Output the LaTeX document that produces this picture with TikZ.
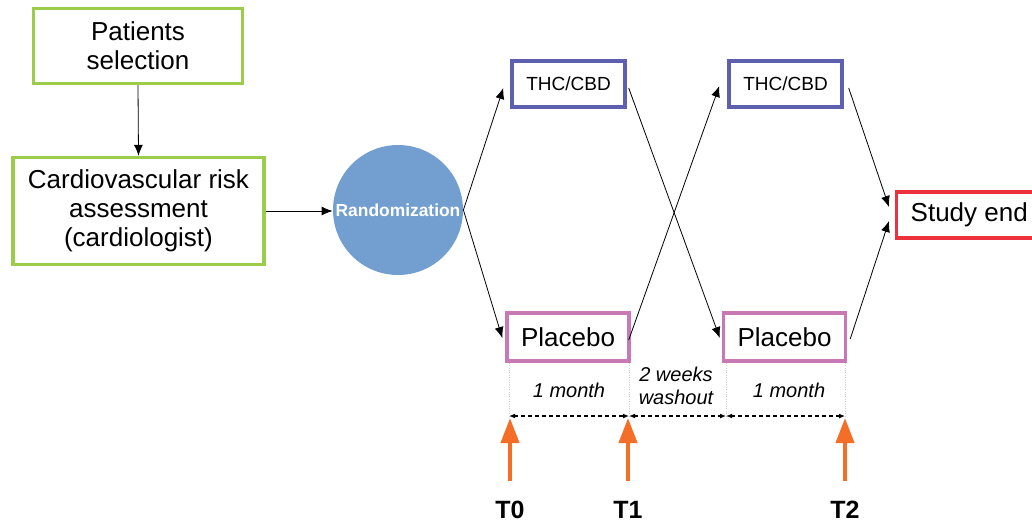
\documentclass[tikz,border=0pt]{standalone}
\usepackage{fontspec}
\setmainfont{Liberation Sans}
\usepackage{tikz}
\usetikzlibrary{arrows,arrows.meta,shapes,positioning}
\usepackage{xcolor}
\definecolor{stepgreen}{RGB}{155,205,75}
\definecolor{thcblue}{RGB}{95,95,175}
\definecolor{placpink}{RGB}{200,120,180}
\definecolor{endred}{RGB}{235,50,60}
\definecolor{randblue}{RGB}{114,159,207}
\definecolor{visitorange}{RGB}{245,110,40}
\tikzstyle{arrow} = [thin,-{Latex[length=5.5pt,width=4.5pt]},color=black]
\tikzstyle{bigtext} = [font=\fontsize{13}{14.5}\selectfont]
\tikzstyle{greenbox} = [bigtext,draw=stepgreen,line width=1.7pt,fill=white,align=center]
\tikzstyle{thcbox} = [draw=thcblue,line width=1.7pt,fill=white,font=\fontsize{9.5}{11}\selectfont,minimum width=56.5pt,minimum height=23pt]
\tikzstyle{placebox} = [bigtext,draw=placpink,line width=1.7pt,fill=white,minimum width=61pt,minimum height=24pt]
\tikzstyle{endbox} = [bigtext,draw=endred,line width=1.7pt,fill=white,minimum height=23pt,inner xsep=7pt,anchor=west]
\tikzstyle{randcircle} = [circle,fill=randblue,minimum size=65pt,inner sep=0pt,text=white,font=\fontsize{8.7}{10}\selectfont\bfseries]
\tikzstyle{guide} = [very thin,densely dotted,color=black!20]
\tikzstyle{span} = [semithick,{Latex[length=3pt,width=2.5pt]}-{Latex[length=3pt,width=2.5pt]},dash pattern=on 2pt off 1.5pt]
\tikzstyle{periodlabel} = [font=\fontsize{10}{11.5}\selectfont\itshape,align=center]
\tikzstyle{visit} = [line width=2pt,-{Triangle[length=12.5pt,width=9pt]},color=visitorange,shorten <=6.5pt,shorten >=1pt]
\tikzstyle{tlabel} = [font=\fontsize{12.5}{14}\selectfont\bfseries]

\begin{document}
\begin{tikzpicture}[x=0.5pt,y=-0.5pt]
\useasboundingbox (0,0) rectangle (1032,524);
% Screening
\node[greenbox, minimum width=104.5pt, minimum height=37.5pt] (select) at (138,46) {Patients\\selection};
\node[greenbox, minimum width=125.5pt, minimum height=53.5pt] (cardio) at (138.5,211) {Cardiovascular risk\\assessment\\(cardiologist)};
\node[randcircle] (rand) at (398,210) {Randomization};

% First period
\node[thcbox] (thcA) at (568.5,84) {THC/CBD};
\node[placebox] (plaA) at (568,337) {Placebo};

% Second period
\node[thcbox] (thcB) at (785.5,84) {THC/CBD};
\node[placebox] (plaB) at (784.5,337) {Placebo};
\node[endbox] (studyend) at (895,215) {Study end};

% Flow
\draw[arrow] (select.south) -- (cardio.north);
\draw[arrow] (cardio.east) -- (cardio.east -| rand.west);
\draw[arrow] (rand.east) -- ([shift={(-7,4)}]thcA.west);
\draw[arrow] (rand.east) -- ([shift={(-3,1)}]plaA.west);
\draw[arrow] ([shift={(-2,3)}]plaA.east) -- ([shift={(-8,2)}]thcB.west);
\draw[arrow] ([shift={(2,4)}]thcA.east) -- ([shift={(-2,1)}]plaB.west);
\draw[arrow] ([shift={(5,4)}]thcB.east) -- ([shift={(-6,-8)}]studyend.west);
\draw[arrow] ([shift={(3,2)}]plaB.east) -- ([shift={(-6,6)}]studyend.west);

% Timeline
\coordinate (m0) at (509,416);
\coordinate (m1) at (629,416);
\coordinate (m2) at (726,416);
\coordinate (m3) at (845,416);
\draw[guide] (m0 |- plaA.south) -- (m0);
\draw[guide] (m1 |- plaA.south) -- (m1);
\draw[guide] (m2 |- plaB.south) -- (m2);
\draw[guide] (m3 |- plaB.south) -- (m3);
\draw[span] (m0) -- (m1);
\draw[span] (m1) -- (m2);
\draw[span] (m2) -- (m3);
\node[periodlabel] (monthA) at (569,390) {1 month};
\node[periodlabel] (washout) at (676,386) {2 weeks\\washout};
\node[periodlabel] (monthB) at (789,390) {1 month};

% Visits
\node[tlabel] (tzero) at (510,510) {T0};
\node[tlabel] (tone) at (628,510) {T1};
\node[tlabel] (ttwo) at (845,510) {T2};
\draw[visit] (tzero.north) -- (tzero.north |- m0);
\draw[visit] (tone.north) -- (tone.north |- m1);
\draw[visit] (ttwo.north) -- (ttwo.north |- m3);
\end{tikzpicture}
\end{document}
